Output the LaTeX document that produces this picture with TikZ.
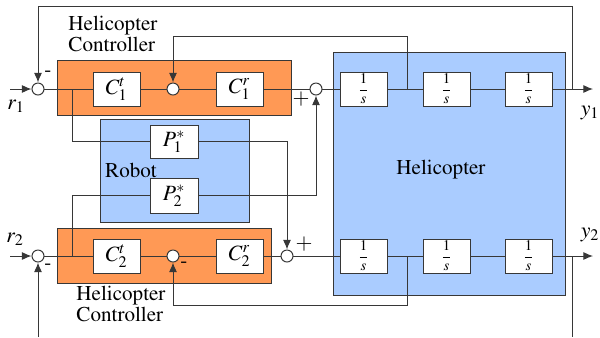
\documentclass[tikz,border=0pt]{standalone}
\usepackage[T1]{fontenc}
\usepackage{mathptmx}
\usetikzlibrary{arrows.meta, calc}
\definecolor{ctrlorange}{RGB}{255,153,85}
\definecolor{heliblue}{RGB}{170,204,255}
\definecolor{mydark}{RGB}{55,55,55}
\tikzset{
  orangebox/.style={rectangle, draw=mydark, fill=ctrlorange, inner sep=0pt, line width=0.7pt},
  bluebox/.style={rectangle, draw=mydark, fill=heliblue, inner sep=0pt, line width=0.7pt},
  gain/.style={rectangle, draw=mydark, fill=white, inner sep=0pt,
    minimum width=1.175cm, minimum height=0.85cm, line width=0.7pt,
    font=\fontsize{15.5}{15.5}\selectfont},
  integ/.style={gain, font=\fontsize{10.5}{10.5}\selectfont},
  sumjunc/.style={circle, draw=mydark, fill=white, minimum size=0.3cm,
    inner sep=0pt, line width=0.7pt},
  lbl/.style={font=\fontsize{15}{12}\selectfont, align=left, inner sep=0pt},
  sig/.style={font=\fontsize{15.5}{15.5}\selectfont, inner sep=0pt},
  arrow/.style={-{Latex[length=2.4mm, width=2mm]}, line width=0.7pt, color=mydark},
  line/.style={line width=0.7pt, color=mydark}
}

\begin{document}
\begin{tikzpicture}[x=0.025cm, y=-0.025cm]
  \useasboundingbox (0,0) rectangle (600,337);

  % Group boxes
  \node[orangebox, minimum width=5.825cm, minimum height=1.375cm] (ctrlA) at (174.5,87.5) {};
  \node[orangebox, minimum width=5.325cm, minimum height=1.375cm] (ctrlB) at (164.5,255.5) {};
  \node[bluebox, minimum width=3.7cm, minimum height=2.55cm] (robot) at (175,171) {};
  \node[bluebox, minimum width=5.775cm, minimum height=6.05cm] (heli) at (449.5,174) {};

  % Group labels
  \node[lbl] (ctrlAlbl) at (113,34) {Helicopter\\Controller};
  \node[lbl] (ctrlBlbl) at (121,304) {Helicopter\\Controller};
  \node[lbl] (robotlbl) at (131,170) {Robot};
  \node[lbl] (helilbl) at (441,170) {Helicopter};

  % Blocks
  \node[gain] (CAt) at (116.5,89) {$C_1^t$};
  \node[gain] (CAr) at (239.5,89) {$C_1^r$};
  \node[gain] (CBt) at (116.5,256) {$C_2^t$};
  \node[gain] (CBr) at (239.5,256) {$C_2^r$};
  \node[gain, minimum width=1.2cm, minimum height=0.825cm] (PA) at (174,141.5) {$P_1^*$};
  \node[gain, minimum width=1.2cm, minimum height=0.875cm] (PB) at (174,195.5) {$P_2^*$};
  \node[integ] (IA1) at (363.5,89) {$\displaystyle\frac{1}{s}$};
  \node[integ] (IA2) at (446.5,89) {$\displaystyle\frac{1}{s}$};
  \node[integ] (IA3) at (528.5,89) {$\displaystyle\frac{1}{s}$};
  \node[integ] (IB1) at (363.5,256) {$\displaystyle\frac{1}{s}$};
  \node[integ] (IB2) at (446.5,256) {$\displaystyle\frac{1}{s}$};
  \node[integ] (IB3) at (528.5,256) {$\displaystyle\frac{1}{s}$};

  % Summing junctions
  \node[sumjunc] (sA) at (38,89) {};
  \node[sumjunc] (sB) at (38,256) {};
  \node[sumjunc] (mA) at (173,89) {};
  \node[sumjunc] (mB) at (173,256) {};
  \node[sumjunc] (jA) at (316,89) {};
  \node[sumjunc] (jB) at (287,256) {};

  % Signs
  \node[lbl] at (48,74) {-};
  \node[lbl] at (48,267) {-};
  \node[lbl] at (184,265) {-};
  \node[sig] at (301,99) {$+$};
  \node[sig] at (304,244) {$+$};

  % Free ends
  \coordinate (rA) at (10,89);
  \coordinate (rB) at (10,256);
  \coordinate (yA) at (593,89);
  \coordinate (yB) at (593,256);
  \coordinate (tA) at (572,89);
  \coordinate (tB) at (572,256);
  \coordinate (topA) at (38,6);
  \coordinate (botA) at (572,337);
  \coordinate (botB) at (38,337);
  \coordinate (bA) at (72,89);
  \coordinate (bB) at (72,256);
  \coordinate (kA) at (407,89);
  \coordinate (kB) at (407,256);
  \coordinate (fbA) at (407,36);
  \coordinate (fbB) at (407,305);

  % Signal labels
  \node[sig] at (16,106) {$r_1$};
  \node[sig] at (15,239) {$r_2$};
  \node[sig] at (590,113) {$y_1$};
  \node[sig] at (590,235) {$y_2$};

  % Row 1
  \draw[arrow] (rA) -- (sA);
  \draw[line] (sA) -- (CAt);
  \draw[line] (CAt) -- (mA);
  \draw[line] (mA) -- (CAr);
  \draw[line] (CAr) -- (jA);
  \draw[line] (jA) -- (IA1);
  \draw[line] (IA1) -- (IA2);
  \draw[line] (IA2) -- (IA3);
  \draw[arrow] (IA3) -- (yA);
  \draw[arrow] (tA) |- (topA) -- (sA);
  \draw[arrow] (kA) -- (fbA) -| (mA);

  % Row 2
  \draw[arrow] (rB) -- (sB);
  \draw[line] (sB) -- (CBt);
  \draw[line] (CBt) -- (mB);
  \draw[line] (mB) -- (CBr);
  \draw[line] (CBr) -- (jB);
  \draw[line] (jB) -- (IB1);
  \draw[line] (IB1) -- (IB2);
  \draw[line] (IB2) -- (IB3);
  \draw[arrow] (IB3) -- (yB);
  \draw[line] (tB) -- (botA);
  \draw[arrow] (botB) -- (sB);
  \draw[arrow] (kB) -- (fbB) -| (mB);

  % Robot coupling
  \draw[line] (bA) |- (PA);
  \draw[arrow] (PA) -| (jB);
  \draw[line] (bB) |- (PB);
  \draw[arrow] (PB) -| (jA);
\end{tikzpicture}
\end{document}
